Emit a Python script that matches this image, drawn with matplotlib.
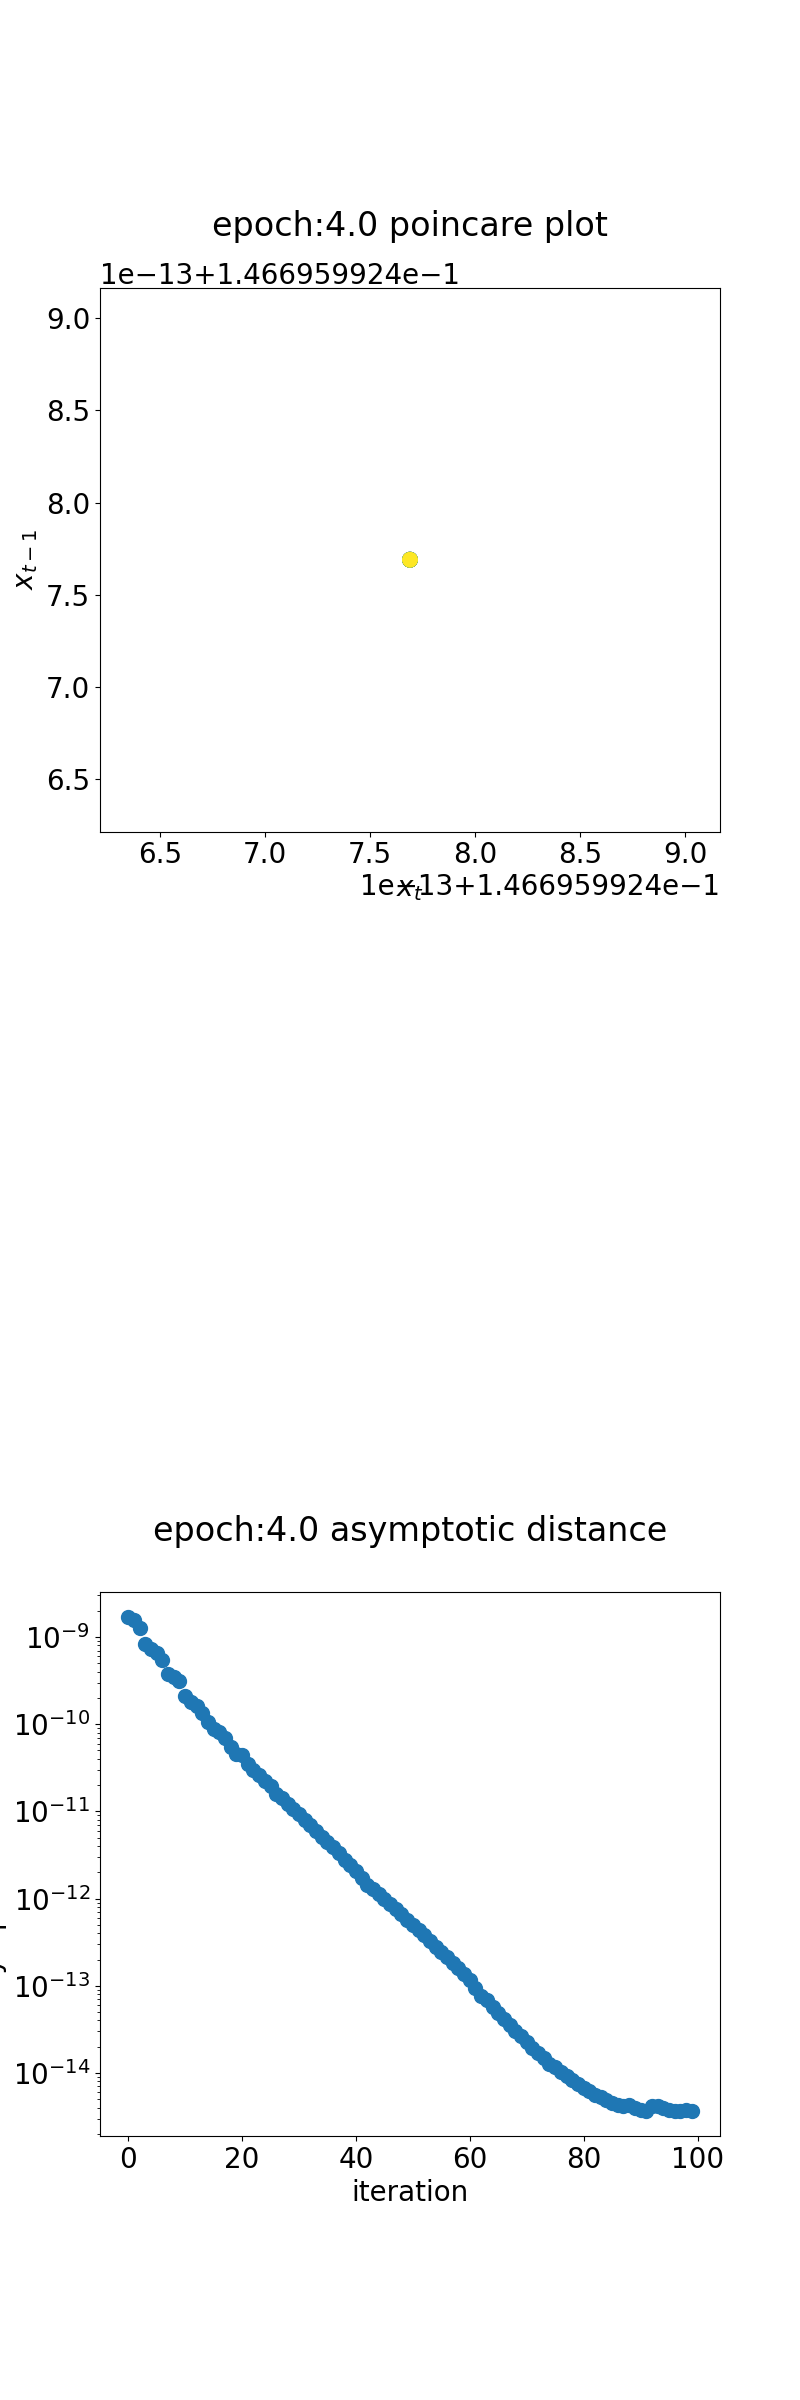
import matplotlib
matplotlib.use("Agg")
import matplotlib.pyplot as plt

plt.rcParams['font.size'] = 20

epoch = 4.0

# poincare plot: last iterates sitting on the fixed point
step_ids = [95, 96, 97, 98, 99]
x_t = [0.146695992400769, 0.146695992400769, 0.146695992400769,
       0.146695992400769, 0.146695992400769]
x_prev = [0.146695992400769, 0.146695992400769, 0.146695992400769,
          0.146695992400769, 0.146695992400769]

# asymptotic distance per iteration
iterations = list(range(100))
distance = [
    1.69e-9, 1.58e-9, 1.26e-9, 8.3e-10, 7.2e-10, 6.6e-10, 5.4e-10, 3.8e-10, 3.5e-10, 3.1e-10,
    2.1e-10, 1.8e-10, 1.6e-10, 1.35e-10, 1.07e-10, 8.9e-11, 8.1e-11, 6.9e-11, 5.5e-11, 4.6e-11,
    4.4e-11, 3.5e-11, 2.95e-11, 2.6e-11, 2.24e-11, 1.95e-11, 1.58e-11, 1.41e-11, 1.23e-11, 1.07e-11,
    9.3e-12, 7.9e-12, 6.9e-12, 6.0e-12, 5.1e-12, 4.5e-12, 3.9e-12, 3.3e-12, 2.8e-12, 2.4e-12,
    2.05e-12, 1.74e-12, 1.45e-12, 1.29e-12, 1.12e-12, 1.0e-12, 8.7e-13, 7.6e-13, 6.6e-13, 5.75e-13,
    5.0e-13, 4.35e-13, 3.8e-13, 3.3e-13, 2.8e-13, 2.45e-13, 2.14e-13, 1.82e-13, 1.58e-13, 1.35e-13,
    1.15e-13, 9.3e-14, 7.6e-14, 6.9e-14, 5.75e-14, 4.9e-14, 4.2e-14, 3.55e-14, 3.0e-14, 2.63e-14,
    2.29e-14, 1.95e-14, 1.7e-14, 1.48e-14, 1.26e-14, 1.17e-14, 1.02e-14, 9.3e-15, 8.3e-15, 7.4e-15,
    6.8e-15, 6.2e-15, 5.6e-15, 5.25e-15, 4.9e-15, 4.57e-15, 4.27e-15, 4.17e-15, 4.27e-15, 3.98e-15,
    3.8e-15, 3.63e-15, 4.17e-15, 4.17e-15, 3.98e-15, 3.72e-15, 3.63e-15, 3.63e-15, 3.8e-15, 3.63e-15,
]

fig = plt.figure(figsize=(8, 24))

ax1 = fig.add_subplot(3, 1, 1)
ax1.scatter(x_t, x_prev, c=step_ids, cmap='viridis', s=110)
ax1.set_xlim(0.1466959924006215, 0.1466959924009165)
ax1.set_ylim(0.1466959924006215, 0.1466959924009165)
ax1.set_xlabel(r'$x_t$')
ax1.set_ylabel(r'$x_{t-1}$')
ax1.set_title('epoch:{} poincare plot'.format(epoch), y=1.08)

ax3 = fig.add_subplot(3, 1, 3)
ax3.scatter(iterations, distance, s=100)
ax3.set_yscale('log')
ax3.set_xlabel('iteration')
ax3.set_ylabel('asymptotic distance')
ax3.set_title('epoch:{} asymptotic distance'.format(epoch), y=1.08)

fig.savefig('out.png', dpi=100)
